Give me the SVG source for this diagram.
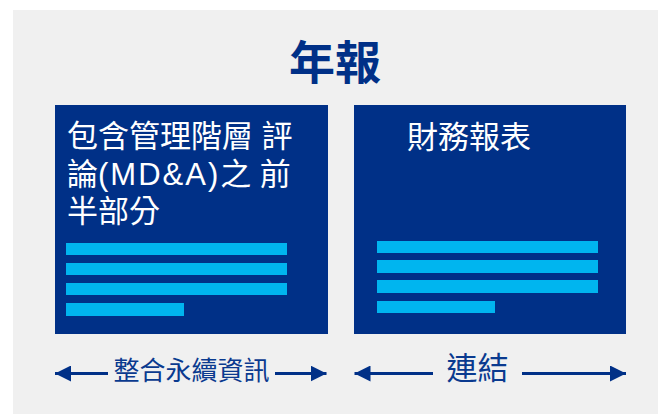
<svg xmlns="http://www.w3.org/2000/svg" width="658" height="415" viewBox="0 0 658 415">
  <style>
    .panel { fill: #003087; }
    .bar { fill: #00b5ef; }
    .title { font-family: "Noto Sans CJK TC", "Noto Sans", sans-serif; font-weight: bold; font-size: 46px; fill: #003087; }
    .boxtext { font-family: "Liberation Sans", "Noto Sans CJK TC", sans-serif; font-size: 31px; fill: #ffffff; }
    .label { font-family: "Noto Sans CJK TC", "Noto Sans", sans-serif; fill: #0a3a8f; }
    .conn { stroke: #003087; stroke-width: 3; fill: none; }
  </style>
  <defs>
    <marker id="head" viewBox="0 0 16 16" refX="16" refY="8" markerWidth="16" markerHeight="16" markerUnits="userSpaceOnUse" orient="auto-start-reverse">
      <path d="M0,0 L16,8 L0,16 Z" fill="#003087"/>
    </marker>
  </defs>
  <rect x="0" y="0" width="658" height="415" fill="#ffffff"/>
  <rect x="13" y="10" width="645" height="404" fill="#f0f0f0"/>
  <g id="title">
    <text class="title" x="335" y="79" text-anchor="middle">年報</text>
  </g>
  <g id="mda">
    <rect class="panel" x="55" y="105" width="273" height="229"/>
    <text class="boxtext" x="67" y="147">包含管理階層 評</text>
    <text class="boxtext" x="67" y="185">論<tspan letter-spacing="2">(MD&amp;A)</tspan>之 前</text>
    <text class="boxtext" x="67" y="222">半部分</text>
    <rect class="bar" x="66" y="243" width="221" height="12"/>
    <rect class="bar" x="66" y="263" width="221" height="12"/>
    <rect class="bar" x="66" y="283" width="221" height="12"/>
    <rect class="bar" x="66" y="303" width="118" height="13"/>
  </g>
  <g id="fin">
    <rect class="panel" x="354" y="105" width="272" height="229"/>
    <text class="boxtext" x="407" y="148">財務報表</text>
    <rect class="bar" x="377" y="241" width="221" height="12"/>
    <rect class="bar" x="377" y="260" width="221" height="13"/>
    <rect class="bar" x="377" y="280" width="221" height="13"/>
    <rect class="bar" x="377" y="301" width="118" height="12"/>
  </g>
  <g id="connectors">
    <line class="conn" x1="55" y1="373.5" x2="108" y2="373.5" marker-start="url(#head)"/>
    <line class="conn" x1="275" y1="373.5" x2="326.5" y2="373.5" marker-end="url(#head)"/>
    <line class="conn" x1="354.5" y1="373.5" x2="433" y2="373.5" marker-start="url(#head)"/>
    <line class="conn" x1="522" y1="373.5" x2="626" y2="373.5" marker-end="url(#head)"/>
    <text class="label" x="191.5" y="380" font-size="26" text-anchor="middle">整合永續資訊</text>
    <text class="label" x="477.5" y="379" font-size="31" text-anchor="middle">連結</text>
  </g>
</svg>
